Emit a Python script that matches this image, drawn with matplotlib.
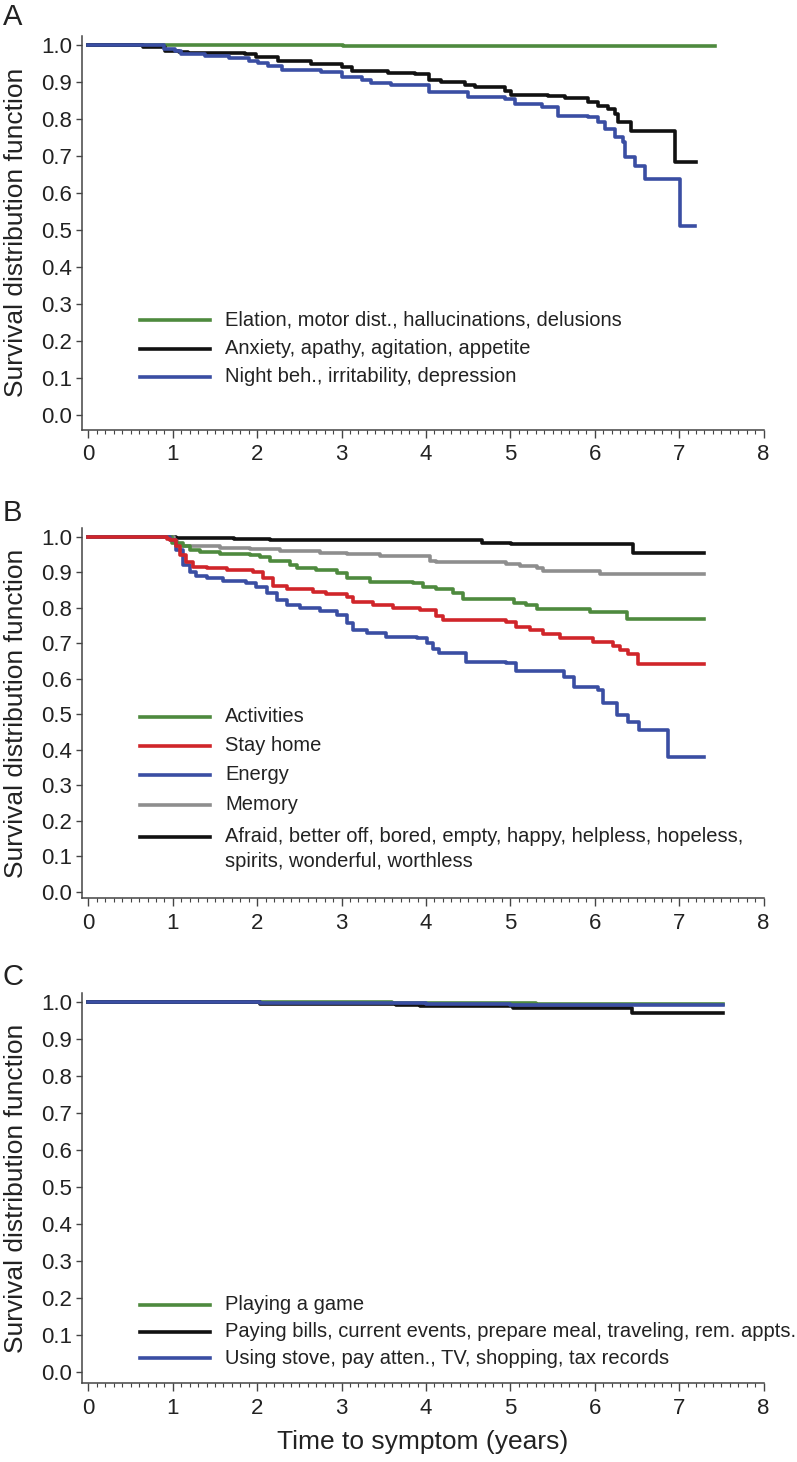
import matplotlib
matplotlib.use("Agg")
import matplotlib.pyplot as plt
from matplotlib.lines import Line2D
from matplotlib.ticker import MultipleLocator, FormatStrFormatter

plt.rcParams['font.family'] = ['Liberation Sans', 'DejaVu Sans']

W, H = 797, 1462

GREEN = "#4e8a3e"
BLACK = "#111111"
BLUE = "#3a4ea3"
RED = "#d0252a"
GRAY = "#8e8e8e"

# ---- panel A: neuropsychiatric symptoms ----
a_labels = ["Elation, motor dist., hallucinations, delusions",
            "Anxiety, apathy, agitation, appetite",
            "Night beh., irritability, depression"]
a_green_t = [0, 3.02, 7.42]
a_green_s = [1.0, 0.997, 0.997]
a_black_t = [0, 0.65, 0.91, 1.07, 1.18, 1.86, 1.98, 2.25, 2.64, 3.0, 3.12, 3.55, 3.87,
             4.03, 4.18, 4.46, 4.58, 4.94, 5.01, 5.45, 5.65, 5.92, 6.04, 6.16, 6.24,
             6.28, 6.43, 6.95, 7.2]
a_black_s = [1.0, 0.995, 0.985, 0.982, 0.978, 0.976, 0.967, 0.958, 0.949, 0.94, 0.931,
             0.925, 0.922, 0.906, 0.901, 0.892, 0.887, 0.876, 0.866, 0.861, 0.856, 0.845,
             0.834, 0.827, 0.814, 0.791, 0.768, 0.683, 0.683]
a_blue_t = [0, 0.89, 1.03, 1.10, 1.38, 1.66, 1.90, 2.01, 2.13, 2.29, 2.76, 3.0, 3.24,
            3.35, 3.59, 4.03, 4.5, 4.94, 5.06, 5.37, 5.57, 5.92, 6.04, 6.12, 6.24, 6.34,
            6.36, 6.48, 6.6, 7.01, 7.19]
a_blue_s = [1.0, 0.99, 0.985, 0.976, 0.971, 0.964, 0.958, 0.951, 0.944, 0.933, 0.926,
            0.913, 0.906, 0.896, 0.892, 0.874, 0.859, 0.854, 0.841, 0.832, 0.809, 0.805,
            0.791, 0.773, 0.751, 0.737, 0.697, 0.674, 0.638, 0.512, 0.512]

# ---- panel B: depression items ----
b_labels = ["Activities", "Stay home", "Energy", "Memory",
            "Afraid, better off, bored, empty, happy, helpless, hopeless,"]
b_label_extra = "spirits, wonderful, worthless"
b_black_t = [0, 1.04, 1.72, 2.15, 4.66, 5.01, 6.45, 7.3]
b_black_s = [1.0, 0.998, 0.995, 0.990, 0.984, 0.980, 0.954, 0.954]
b_gray_t = [0, 1.01, 1.045, 1.08, 1.28, 1.56, 1.91, 2.27, 2.74, 3.06, 3.45, 4.05, 4.12,
            4.95, 5.11, 5.31, 5.39, 6.06, 7.3]
b_gray_s = [1.0, 0.987, 0.979, 0.975, 0.973, 0.970, 0.966, 0.961, 0.956, 0.951, 0.946,
            0.933, 0.929, 0.924, 0.918, 0.912, 0.904, 0.896, 0.896]
b_green_t = [0, 0.985, 1.12, 1.2, 1.32, 1.56, 1.91, 2.03, 2.15, 2.39, 2.47, 2.70, 2.94,
             3.06, 3.34, 3.85, 3.97, 4.12, 4.32, 4.44, 5.04, 5.19, 5.31, 5.94, 6.38, 7.3]
b_green_s = [1.0, 0.982, 0.973, 0.963, 0.957, 0.951, 0.949, 0.942, 0.933, 0.921, 0.912,
             0.907, 0.899, 0.883, 0.874, 0.869, 0.860, 0.853, 0.841, 0.824, 0.813, 0.808,
             0.796, 0.788, 0.769, 0.769]
b_red_t = [0, 0.93, 0.97, 1.04, 1.08, 1.16, 1.24, 1.40, 1.64, 1.95, 2.07, 2.19, 2.35,
           2.66, 2.82, 3.06, 3.14, 3.37, 3.61, 3.93, 4.12, 4.2, 4.95, 5.07, 5.23, 5.39,
           5.59, 5.98, 6.22, 6.3, 6.39, 6.51, 7.3]
b_red_s = [1.0, 0.995, 0.99, 0.973, 0.949, 0.930, 0.916, 0.911, 0.907, 0.902, 0.883,
           0.862, 0.852, 0.845, 0.838, 0.832, 0.818, 0.808, 0.799, 0.794, 0.777, 0.766,
           0.759, 0.747, 0.737, 0.726, 0.715, 0.705, 0.693, 0.682, 0.670, 0.642, 0.642]
b_blue_t = [0, 0.97, 1.04, 1.12, 1.2, 1.28, 1.40, 1.6, 1.87, 1.99, 2.11, 2.23, 2.35,
            2.51, 2.74, 2.94, 3.06, 3.14, 3.30, 3.53, 3.89, 4.01, 4.08, 4.15, 4.48, 4.95,
            5.07, 5.63, 5.75, 6.04, 6.1, 6.26, 6.39, 6.53, 6.87, 7.3]
b_blue_s = [1.0, 0.99, 0.963, 0.921, 0.902, 0.890, 0.883, 0.875, 0.869, 0.858, 0.841,
            0.822, 0.808, 0.799, 0.790, 0.780, 0.757, 0.738, 0.728, 0.719, 0.714, 0.700,
            0.685, 0.672, 0.649, 0.644, 0.621, 0.605, 0.578, 0.569, 0.531, 0.499, 0.480,
            0.456, 0.380, 0.380]

# ---- panel C: functional items ----
c_labels = ["Playing a game",
            "Paying bills, current events, prepare meal, traveling, rem. appts.",
            "Using stove, pay atten., TV, shopping, tax records"]
c_green_t = [0, 3.6, 5.3, 7.52]
c_green_s = [1.0, 0.998, 0.993, 0.993]
c_black_t = [0, 2.03, 3.65, 3.93, 5.03, 6.44, 7.52]
c_black_s = [1.0, 0.995, 0.991, 0.989, 0.983, 0.969, 0.969]
c_blue_t = [0, 2.03, 4.0, 5.0, 7.52]
c_blue_s = [1.0, 0.997, 0.994, 0.991, 0.991]


def px_axes(fig, left, top, right, bottom):
    return fig.add_axes([left / W, 1 - bottom / H, (right - left) / W, (bottom - top) / H])


def style(ax, ylim):
    ax.set_xlim(-0.077, 8.0)
    ax.set_ylim(*ylim)
    for s in ["top", "right"]:
        ax.spines[s].set_visible(False)
    for s in ["left", "bottom"]:
        ax.spines[s].set_color("#444444")
        ax.spines[s].set_linewidth(1.1)
    ax.xaxis.set_major_locator(MultipleLocator(1))
    ax.xaxis.set_minor_locator(MultipleLocator(0.1))
    ax.yaxis.set_major_locator(MultipleLocator(0.1))
    ax.yaxis.set_major_formatter(FormatStrFormatter("%.1f"))
    ax.tick_params(axis="x", which="major", direction="out", length=5.5, width=1.0,
                   color="#444444", labelsize=16, labelcolor="#222222", pad=5)
    ax.tick_params(axis="x", which="minor", direction="out", length=3, width=0.8,
                   color="#444444")
    ax.tick_params(axis="y", direction="out", length=4, width=1.0, color="#444444",
                   labelsize=16, labelcolor="#222222", pad=3)
    ax.set_ylabel("Survival distribution function", fontsize=19, color="#222222")
    ax.yaxis.set_label_coords(-0.079, 0.5)


def key(fig, colors, labels, ys, x0=140, x1=210, xt=225):
    for c, lab, y in zip(colors, labels, ys):
        fig.add_artist(Line2D([x0 / W, x1 / W], [1 - y / H, 1 - y / H], color=c, lw=2.6,
                              transform=fig.transFigure))
        fig.text(xt / W, 1 - y / H, lab, fontsize=14.5, color="#222222", va="center",
                 ha="left")


fig = plt.figure(figsize=(W / 100, H / 100), dpi=100)

# A
axA = px_axes(fig, 82, 35.75, 763.5, 429.8)
style(axA, (-0.04, 1.025))
axA.step(a_green_t, a_green_s, where="post", color=GREEN, lw=2.6)
axA.step(a_black_t, a_black_s, where="post", color=BLACK, lw=2.6)
axA.step(a_blue_t, a_blue_s, where="post", color=BLUE, lw=2.6)
key(fig, [GREEN, BLACK, BLUE], a_labels, [320, 348.5, 377])
fig.text(3 / W, 1 - 17 / H, "A", fontsize=21, color="#222222", va="center")

# B
axB = px_axes(fig, 82, 528, 763.5, 898)
style(axB, (-0.017, 1.025))
axB.step(b_black_t, b_black_s, where="post", color=BLACK, lw=2.6)
axB.step(b_gray_t, b_gray_s, where="post", color=GRAY, lw=2.6)
axB.step(b_green_t, b_green_s, where="post", color=GREEN, lw=2.6)
axB.step(b_blue_t, b_blue_s, where="post", color=BLUE, lw=2.6)
axB.step(b_red_t, b_red_s, where="post", color=RED, lw=2.6)
key(fig, [GREEN, RED, BLUE, GRAY, BLACK], b_labels, [716.7, 745.5, 774.5, 804.5, 836.7])
fig.text(225 / W, 1 - 861.7 / H, b_label_extra, fontsize=14.5, color="#222222",
         va="center", ha="left")
fig.text(3 / W, 1 - 513 / H, "B", fontsize=21, color="#222222", va="center")

# C
axC = px_axes(fig, 82, 993, 763.5, 1383)
style(axC, (-0.03, 1.024))
axC.step(c_green_t, c_green_s, where="post", color=GREEN, lw=2.6)
axC.step(c_black_t, c_black_s, where="post", color=BLACK, lw=2.6)
axC.step(c_blue_t, c_blue_s, where="post", color=BLUE, lw=2.6)
key(fig, [GREEN, BLACK, BLUE], c_labels, [1305, 1331.5, 1358])
fig.text(3 / W, 1 - 977 / H, "C", fontsize=21, color="#222222", va="center")
axC.set_xlabel("Time to symptom (years)", fontsize=19, color="#222222", labelpad=8)

fig.savefig("out.png", dpi=100)
